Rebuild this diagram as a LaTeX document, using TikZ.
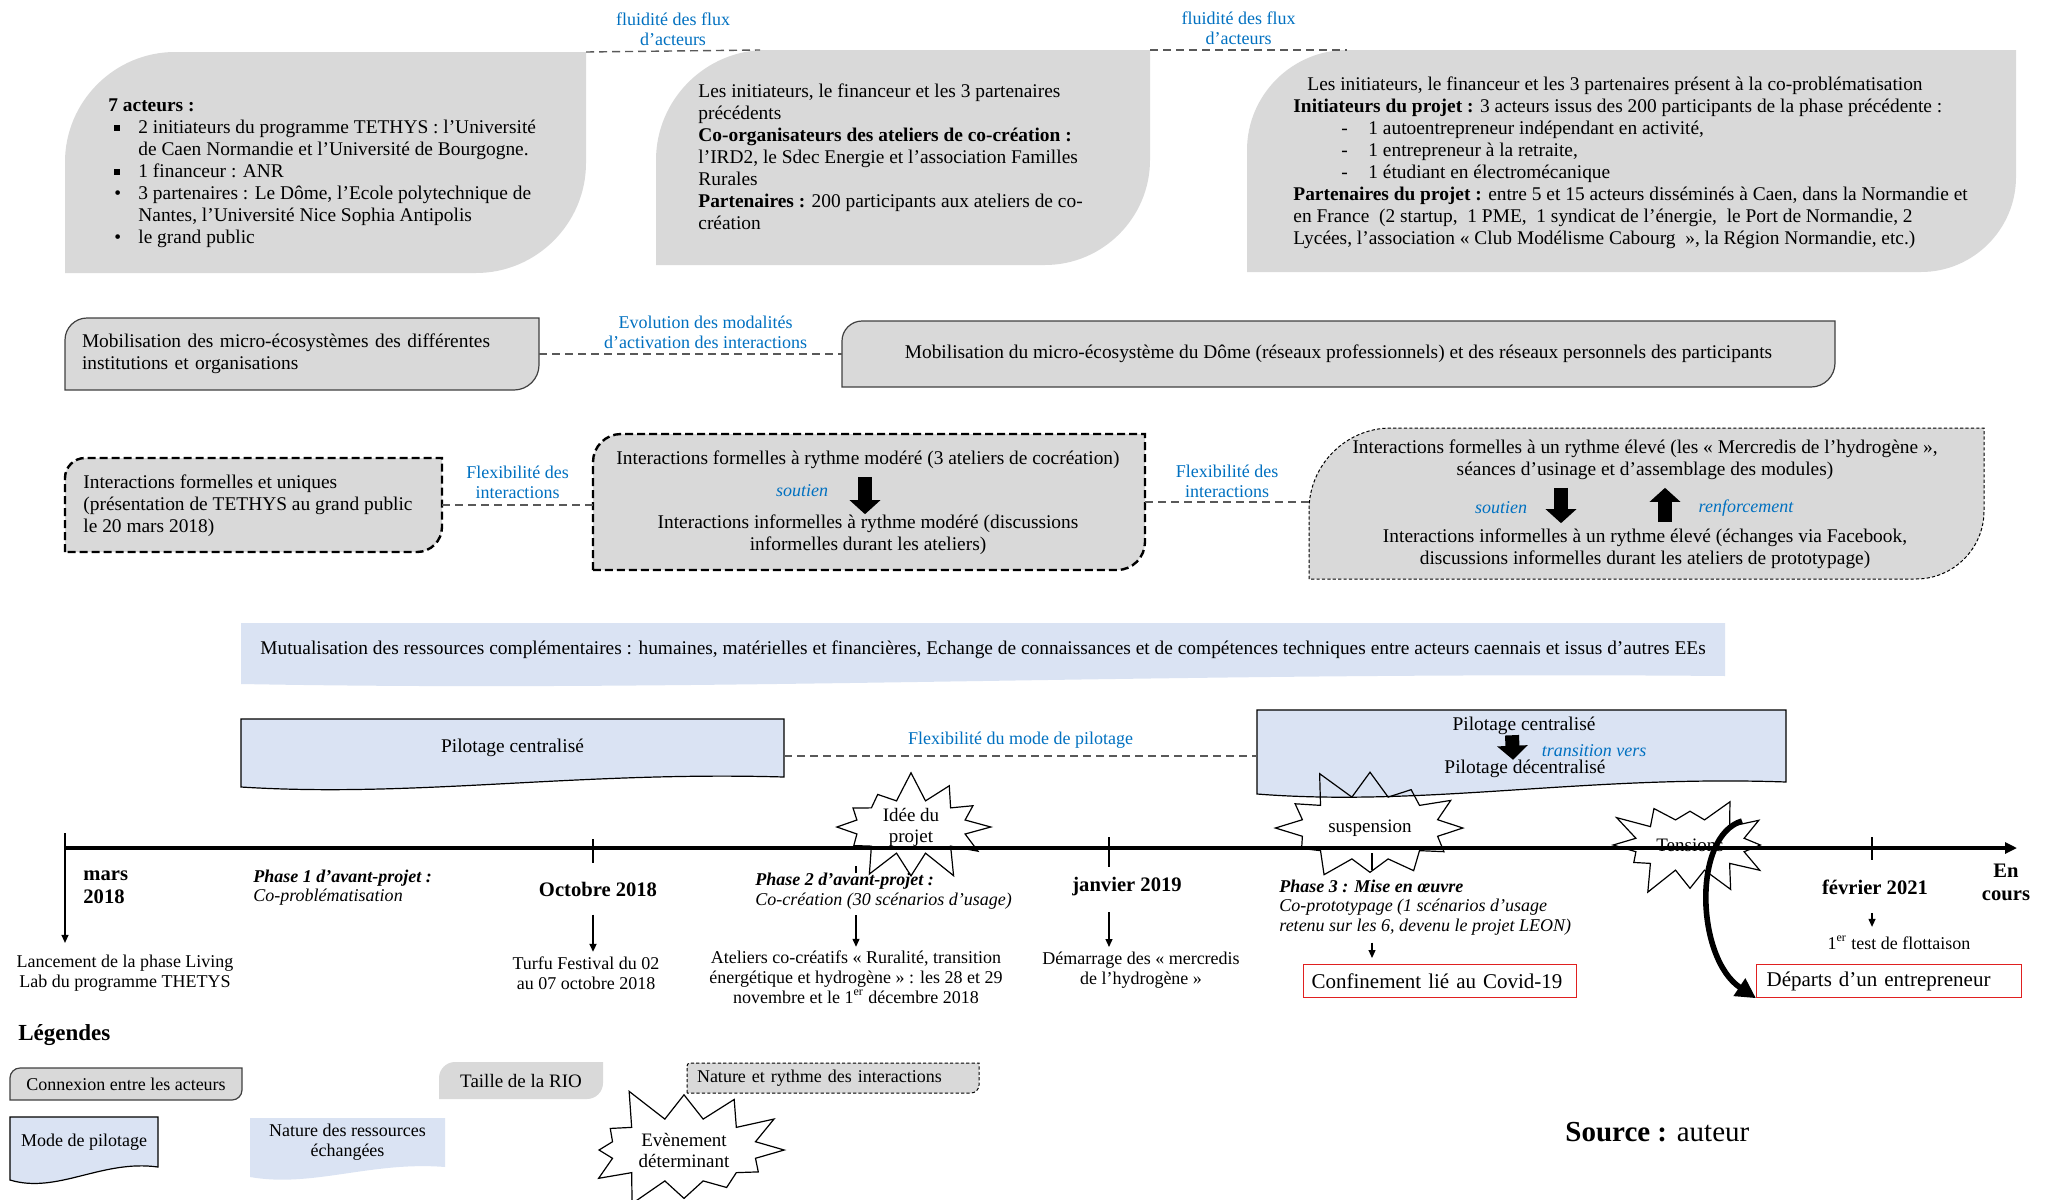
\documentclass[tikz,border=0pt]{standalone}
\usepackage{fontspec}
\setmainfont{Liberation Serif}
\usetikzlibrary{positioning}
\usetikzlibrary{calc}
\usetikzlibrary{fit, backgrounds, shapes.symbols, arrows.meta}

\definecolor{rioGray}{HTML}{D9D9D9}
\definecolor{edgeGray}{HTML}{404040}
\definecolor{linkGray}{HTML}{595959}
\definecolor{pilBlue}{HTML}{DAE3F3}
\definecolor{labelBlue}{HTML}{0070C0}
\definecolor{alertRed}{HTML}{E02020}

\begin{document}
\begin{tikzpicture}[x=0.5pt, y=-0.5pt,
    every node/.style={font=\fontsize{9.7}{11}\selectfont},
    frame/.style={inner sep=0pt, outer sep=0pt, draw=none},
    boxnode/.style={inner sep=0pt, outer sep=0pt, anchor=north west},
    body/.style={align=left, inner sep=0pt, anchor=north west},
    lbl/.style={text=labelBlue, font=\fontsize{9}{10}\selectfont, align=center, inner sep=1pt},
    tag/.style={text=labelBlue, font=\itshape\fontsize{9}{10}\selectfont, inner sep=0pt},
    link/.style={draw=linkGray, line width=0.7pt, dash pattern=on 4pt off 2.5pt},
    riofill/.style={fill=rioGray},
    connline/.style={fill=rioGray, draw=edgeGray, line width=0.6pt},
    interthick/.style={fill=rioGray, draw=black, line width=1.2pt, dash pattern=on 4pt off 2pt},
    interthin/.style={fill=rioGray, draw=black, line width=0.5pt, dash pattern=on 1.6pt off 1.1pt},
    pilline/.style={fill=pilBlue, draw=black, line width=0.6pt},
    resfill/.style={fill=pilBlue},
    bigarrow/.style={line width=7pt, -{Triangle[length=7pt, width=15pt]}},
    evarrow/.style={line width=0.6pt, -{Triangle[length=4pt, width=3.5pt]}},
    tick/.style={line width=0.6pt},
    axis/.style={line width=1.6pt, -{Triangle[length=6pt, width=5.5pt]}},
    swoosh/.style={line width=2.8pt, -{Triangle[length=10pt, width=10pt]}},
    date/.style={font=\bfseries\fontsize{10.3}{11.5}\selectfont, inner sep=0pt},
    phase/.style={font=\itshape\fontsize{9}{9.8}\selectfont, align=left, anchor=west, inner sep=0pt},
    note/.style={font=\fontsize{9}{10}\selectfont, align=center, inner sep=0pt},
    alert/.style={draw=alertRed, line width=0.6pt, font=\fontsize{10.5}{12}\selectfont, align=left, minimum height=16.5pt, inner ysep=0pt, anchor=north west},
    evt/.style={starburst, draw, line width=0.6pt, starburst points=12, random starburst=7, font=\fontsize{9.5}{10.5}\selectfont, align=center, inner sep=0pt}]

  \def\leaf#1#2#3#4{\path[#4] (#1.south west) -- ($(#1.north west)+(0,#2)$)
    .. controls ($(#1.north west)+(0,0.45*#2)$) and ($(#1.north west)+(0.45*#2,0)$) .. ($(#1.north west)+(#2,0)$)
    -- (#1.north east) -- ($(#1.south east)+(0,-#3)$)
    .. controls ($(#1.south east)+(0,-0.45*#3)$) and ($(#1.south east)+(-0.45*#3,0)$) .. ($(#1.south east)+(-#3,0)$) -- cycle;}
  \def\doc#1#2#3{\path[#3] (#1.north west) -- (#1.north east) -- (#1.south east)
    .. controls ($(#1.south west)!0.62!(#1.south east)+(0,-0.6*#2)$) and ($(#1.south west)!0.32!(#1.south east)+(0,2.1*#2)$) .. ($(#1.south west)+(0,#2)$) -- cycle;}
  \def\sqb{\hspace*{3pt}\makebox[12pt][l]{\raisebox{1.2pt}{\rule{3pt}{3pt}}}}
  \def\rdb{\hspace*{3pt}\makebox[12pt][l]{\textbullet}}

  \useasboundingbox (0,0) rectangle (2049,1199);

  % Taille de la RIO
  \node[frame, fit={(65,52) (586,273)}] (actA) {};
  \node[frame, fit={(656,50) (1150,265)}] (actB) {};
  \node[frame, fit={(1247,50) (2016,272)}] (actC) {};

  \node[body] (actAtxt) at (108,98) {\textbf{7 acteurs :}\\
    \sqb 2 initiateurs du programme TETHYS : l’Université\\
    \hspace*{15pt}de Caen Normandie et l’Université de Bourgogne.\\
    \sqb 1 financeur : ANR\\
    \rdb 3 partenaires : Le Dôme, l’Ecole polytechnique de\\
    \hspace*{15pt}Nantes, l’Université Nice Sophia Antipolis\\
    \rdb le grand public};
  \node[body] (actBtxt) at (698,83) {Les initiateurs, le financeur et les 3 partenaires\\
    précédents\\
    \textbf{Co-organisateurs des ateliers de co-création :}\\
    l’IRD2, le Sdec Energie et l’association Familles\\
    Rurales\\
    \textbf{Partenaires :} 200 participants aux ateliers de co-\\
    création};
  \node[body] (actCtxt) at (1293,76) {\hspace*{7pt}Les initiateurs, le financeur et les 3 partenaires présent à la co-problématisation\\
    \textbf{Initiateurs du projet :} 3 acteurs issus des 200 participants de la phase précédente :\\
    \hspace*{24pt}\makebox[13.5pt][l]{-}1 autoentrepreneur indépendant en activité,\\
    \hspace*{24pt}\makebox[13.5pt][l]{-}1 entrepreneur à la retraite,\\
    \hspace*{24pt}\makebox[13.5pt][l]{-}1 étudiant en électromécanique\\
    \textbf{Partenaires du projet :} entre 5 et 15 acteurs disséminés à Caen, dans la Normandie et\\
    en France~ (2 startup,~ 1 PME,~ 1 syndicat de l’énergie,~ le Port de Normandie, 2\\
    Lycées, l’association « Club Modélisme Cabourg~ », la Région Normandie, etc.)};

  \draw[link] (actA.north east) -- ($(actB.north west)+(104,0)$)
    node[midway, above=1.5pt, lbl] {fluidité des flux\\d’acteurs};
  \draw[link] (actB.north east) -- ($(actC.north west)+(100,0)$)
    node[pos=0.45, above=1.5pt, lbl] {fluidité des flux\\d’acteurs};

  % Connexion entre les acteurs
  \node[boxnode, minimum width=237pt, minimum height=36pt, text width=220pt, inner xsep=8.5pt, align=left] (mobA) at (65,318)
    {Mobilisation des micro-écosystèmes des différentes\\institutions et organisations};
  \node[boxnode, minimum width=496.5pt, minimum height=33pt] (mobB) at (842,321)
    {Mobilisation du micro-écosystème du Dôme (réseaux professionnels) et des réseaux personnels des participants};
  \draw[link] (mobA.east) -- (mobA.east -| mobB.west)
    node[pos=0.55, above=1.5pt, lbl] {Evolution des modalités\\d’activation des interactions};

  % Nature et rythme des interactions
  \node[frame, fit={(65,458) (442,552)}] (intA) {};
  \node[frame, fit={(593,434) (1145,570)}] (intB) {};
  \node[frame, fit={(1309,428) (1984,579)}] (intC) {};

  \node[body] (intAtxt) at (83,474) {Interactions formelles et uniques\\(présentation de TETHYS au grand public\\le 20 mars 2018)};

  \node[align=center, inner sep=0pt] (gForm) at (868,460) {Interactions formelles à rythme modéré (3 ateliers de cocréation)};
  \node[align=center, inner sep=0pt] (gInf) at (868,534.5) {Interactions informelles à rythme modéré (discussions\\informelles durant les ateliers)};
  \draw[bigarrow, shorten <=4pt] ([xshift=-1.5pt]gForm.south) -- ([xshift=-1.5pt]gInf.north);
  \node[tag] (gSout) at (802,491) {soutien};

  \node[align=center, inner sep=0pt] (hForm) at (1645,459.5) {Interactions formelles à un rythme élevé (les « Mercredis de l’hydrogène »,\\séances d’usinage et d’assemblage des modules)};
  \node[align=center, inner sep=0pt] (hInf) at (1645,548.5) {Interactions informelles à un rythme élevé (échanges via Facebook,\\discussions informelles durant les ateliers de prototypage)};
  \draw[bigarrow] ($(hForm.south)+(-84,8)$) -- ($(hInf.north)+(-84,-5)$);
  \draw[bigarrow] ($(hInf.north)+(20,-6)$) -- ($(hForm.south)+(20,8)$);
  \node[tag] (hSout) at (1501,508) {soutien};
  \node[tag] (hRenf) at (1746,508) {renforcement};

  \draw[link] (intA.east) -- (intA.east -| intB.west)
    node[midway, above=2pt, lbl] {Flexibilité des\\interactions};
  \draw[link] (intB.east) -- (intB.east -| intC.west)
    node[midway, above=1pt, lbl] {Flexibilité des\\interactions};

  % Nature des ressources
  \node[boxnode, minimum width=742pt, minimum height=26.5pt] (mutu) at (241,623)
    {Mutualisation des ressources complémentaires : humaines, matérielles et financières, Echange de connaissances et de compétences techniques entre acteurs caennais et issus d’autres EEs};

  % Mode de pilotage
  \node[boxnode, minimum width=271.5pt, minimum height=29pt] (pilA) at (241,719) {Pilotage centralisé};
  \node[boxnode, minimum width=264.5pt, minimum height=36pt] (pilB) at (1257,710) {};
  \node[inner sep=0pt] (pilC) at (1524,726) {Pilotage centralisé};
  \node[inner sep=0pt] (pilD) at (1525,769) {Pilotage décentralisé};
  \draw[bigarrow] ([xshift=-6pt]pilC.south) -- ([xshift=-6pt]pilD.north);
  \node[tag] (pTrans) at (1594,751) {transition vers};
  \draw[link] ($(pilA.east)+(0,8)$) coordinate (pl) -- (pl -| pilB.west)
    node[midway, above=2.5pt, lbl] {Flexibilité du mode de pilotage};

  % Ligne du temps
  \coordinate (t1) at (65,848);
  \coordinate (t2) at (593,848);
  \coordinate (t3) at (856,848);
  \coordinate (t4) at (1109,848);
  \coordinate (t5) at (1372,848);
  \coordinate (t6) at (1872,848);
  \coordinate (tEnd) at (2017,848);
  \draw[axis] (t1) -- (tEnd);

  \foreach \c/\a/\b in {t4/-11/19, t6/-11/12, t3/18/25, t5/5/22}
    \draw[tick] ($(\c)+(0,\a)$) -- ($(\c)+(0,\b)$);
  \draw[tick, line width=1.2pt] ($(t2)+(0,-9)$) -- ($(t2)+(0,15)$);

  \node[date, align=left, anchor=west] (mars) at (83,887.5) {mars\\2018};
  \node[date] (oct) at (598,889) {Octobre 2018};
  \node[date] (jan) at (1127,887) {janvier 2019};
  \node[date] (fev) at (1875,887) {février 2021};
  \node[date, align=center] (encours) at (2006,882) {En\\cours};

  \node[phase] (ph1) at (253,887.5) {\textbf{Phase 1 d’avant-projet :}\\Co-problématisation};
  \node[phase] (ph2) at (755,891) {\textbf{Phase 2 d’avant-projet :}\\Co-création (30 scénarios d’usage)};
  \node[phase] (ph3) at (1279,907.5) {\textbf{Phase 3 : Mise en œuvre}\\Co-prototypage (1 scénarios d’usage\\retenu sur les 6, devenu le projet LEON)};

  \node[note] (lancement) at (125,973.5) {Lancement de la phase Living\\Lab du programme THETYS};
  \node[note] (turfu) at (586,973) {Turfu Festival du 02\\au 07 octobre 2018};
  \node[note] (ateliers) at (856,977) {Ateliers co-créatifs « Ruralité, transition\\énergétique et hydrogène » : les 28 et 29\\novembre et le 1\textsuperscript{er} décembre 2018};
  \node[note] (demarrage) at (1141,970) {Démarrage des « mercredis\\de l’hydrogène »};
  \node[note] (flottaison) at (1899,943) {1\textsuperscript{er} test de flottaison};
  \node[alert, minimum width=136.5pt, text width=128.5pt, inner xsep=4pt] (covid) at (1303,964) {Confinement lié au Covid-19};
  \node[alert, minimum width=132.5pt, text width=122.5pt, inner xsep=5pt] (departs) at (1756,964) {Départs d’un entrepreneur};

  \draw[evarrow, shorten >=6pt] ($(t1)+(0,-15)$) -- (t1 |- lancement.north);
  \draw[evarrow, line width=1.2pt, shorten <=9pt, shorten >=2.2pt] (t2 |- oct.south) -- (t2 |- turfu.north);
  \draw[evarrow, shorten <=3pt, shorten >=1.7pt] (t3 |- ph2.south) -- (t3 |- ateliers.north);
  \draw[evarrow, shorten <=7.7pt, shorten >=2.2pt] (t4 |- jan.south) -- (t4 |- demarrage.north);
  \draw[evarrow, shorten <=3.5pt, shorten >=3pt] (t5 |- ph3.south) -- (t5 |- covid.north);
  \draw[evarrow, shorten <=9pt, shorten >=4.5pt] (t6 |- fev.south) -- (t6 |- flottaison.north);

  % Evenements determinants
  \node[evt, minimum width=86pt, minimum height=52pt, starburst point height=15pt] (idee) at (911,827) {Idée du\\projet};
  \node[evt, minimum width=102pt, minimum height=64pt, starburst point height=16pt, random starburst=11] (suspension) at (1370,828) {suspension};
  \node[evt, minimum width=86pt, minimum height=56pt, starburst point height=15pt, random starburst=23] (tensions) at (1690,845) {Tensions};
  \draw[swoosh] ($(tensions.center)+(52,-24)$) .. controls +(-50,15) and +(-60,-40) .. (departs.south west);

  % Legendes
  \node[date, font=\bfseries\fontsize{11.5}{13}\selectfont, anchor=west] (legTitle) at (18,1035) {Légendes};
  \node[boxnode, minimum width=116pt, minimum height=16pt, font=\fontsize{9}{10}\selectfont] (conLeg) at (10,1068) {Connexion entre les acteurs};
  \node[boxnode, minimum width=82pt, minimum height=18.5pt, font=\fontsize{9.5}{10.5}\selectfont] (rioLeg) at (439,1062) {Taille de la RIO};
  \node[boxnode, minimum width=146pt, minimum height=15pt, text width=136pt, inner xsep=5pt, align=left, font=\fontsize{9}{10}\selectfont] (natLeg) at (687,1063) {Nature et rythme des interactions};
  \node[boxnode, minimum width=74pt, minimum height=25pt, font=\fontsize{9}{10}\selectfont] (modeLeg) at (10,1117) {Mode de pilotage};
  \node[boxnode, minimum width=97.5pt, minimum height=24.5pt, align=center, font=\fontsize{9}{10}\selectfont] (resLeg) at (250,1118) {Nature des ressources\\échangées};
  \node[evt, minimum width=112pt, minimum height=70pt, starburst point height=19pt, random starburst=5] (evtLeg) at (684,1150) {Evènement\\déterminant};
  \node[anchor=west, inner sep=0pt, font=\fontsize{14.5}{16}\selectfont] (source) at (1565,1132) {\textbf{Source :} auteur};

  \begin{scope}[on background layer]
    \leaf{actA}{110}{110}{riofill}
    \leaf{actB}{110}{105}{riofill}
    \leaf{actC}{100}{95}{riofill}
    \leaf{mobA}{22}{25}{connline}
    \leaf{mobB}{20}{24}{connline}
    \leaf{intA}{20}{25}{interthick}
    \leaf{intB}{28}{28}{interthick}
    \leaf{intC}{82}{68}{interthin}
    \doc{mutu}{8}{resfill}
    \doc{pilA}{10}{pilline}
    \doc{pilB}{12}{pilline}
    \leaf{conLeg}{10}{10}{connline}
    \leaf{rioLeg}{16}{16}{riofill}
    \leaf{natLeg}{3}{8}{interthin}
    \doc{modeLeg}{13}{pilline}
    \doc{resLeg}{10}{resfill}
  \end{scope}
\end{tikzpicture}
\end{document}
